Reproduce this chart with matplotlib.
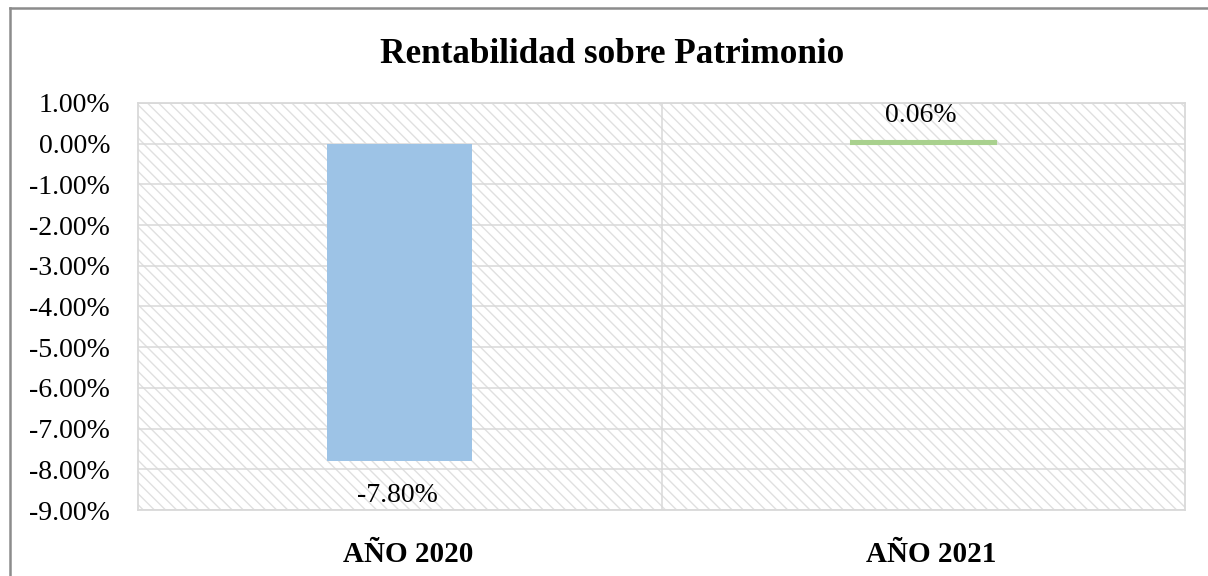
import matplotlib.pyplot as plt
from matplotlib.patches import Rectangle
from matplotlib.ticker import FuncFormatter
from matplotlib.lines import Line2D
from matplotlib.transforms import ScaledTranslation

categories = ['AÑO 2020', 'AÑO 2021']
values = [-7.80, 0.06]
bar_colors = ['#9dc3e6', '#a9d18e']
label_texts = ['-7.80%', '0.06%']
title = 'Rentabilidad sobre Patrimonio'

plt.rcParams['font.family'] = ['Liberation Serif', 'DejaVu Serif']
plt.rcParams['hatch.linewidth'] = 1.0

fig = plt.figure(figsize=(12.08, 5.76), dpi=100)
ax = fig.add_axes([138 / 1208, 1 - 510 / 576, (1185 - 138) / 1208, (510 - 103) / 576])

# hatched plot area background
ax.add_patch(Rectangle((0, 0), 1, 1, transform=ax.transAxes, facecolor='white',
                       edgecolor='#e0e0e0', hatch='\\\\\\', linewidth=0, zorder=0))

ax.set_ylim(-9, 1)
ax.set_xlim(-0.5, 1.5)
ax.set_yticks(range(-9, 2))
ax.yaxis.set_major_formatter(FuncFormatter(lambda v, p: f'{v:.2f}%'))
ax.grid(axis='y', color='#d9d9d9', linewidth=1.1, zorder=1)
ax.axvline(0.5, color='#d9d9d9', linewidth=1.1, zorder=1)
ax.set_axisbelow(True)

x = list(range(len(categories)))
bars = ax.bar(x, values, width=0.277, color=bar_colors, zorder=2)
# thin green bar should be visible as a line
bars[1].set_edgecolor(bar_colors[1])
bars[1].set_linewidth(1.5)

for i, (v, t) in enumerate(zip(values, label_texts)):
    if v < 0:
        ax.annotate(t, (i, v), xytext=(-2, -41), textcoords='offset pixels',
                    ha='center', va='baseline', fontsize=20, zorder=3)
    else:
        ax.annotate(t, (i, v), xytext=(-2, 19), textcoords='offset pixels',
                    ha='center', va='baseline', fontsize=20, zorder=3)

ax.set_xticks(x)
ax.set_xticklabels(categories, fontsize=21, fontweight='bold')
ax.tick_params(axis='x', length=0, pad=22)
ax.tick_params(axis='y', length=0, labelsize=20, pad=20)
shift = ScaledTranslation(8 / 100, 0, fig.dpi_scale_trans)
for lbl in ax.get_xticklabels():
    lbl.set_transform(lbl.get_transform() + shift)
for s in ax.spines.values():
    s.set_color('#d9d9d9')
    s.set_linewidth(1.3)

fig.text(612 / 1208, 1 - 63 / 576, title, ha='center', va='baseline', fontsize=25.3, fontweight='bold')

# chart outer border (extends beyond the image on right and bottom)
fig.add_artist(Line2D([10 / 1208, 1.0], [1 - 8 / 576, 1 - 8 / 576], transform=fig.transFigure,
                      color='#8c8c8c', linewidth=1.8))
fig.add_artist(Line2D([10 / 1208, 10 / 1208], [0.0, 1 - 8 / 576], transform=fig.transFigure,
                      color='#8c8c8c', linewidth=1.8))

fig.savefig('out.png', dpi=100)
